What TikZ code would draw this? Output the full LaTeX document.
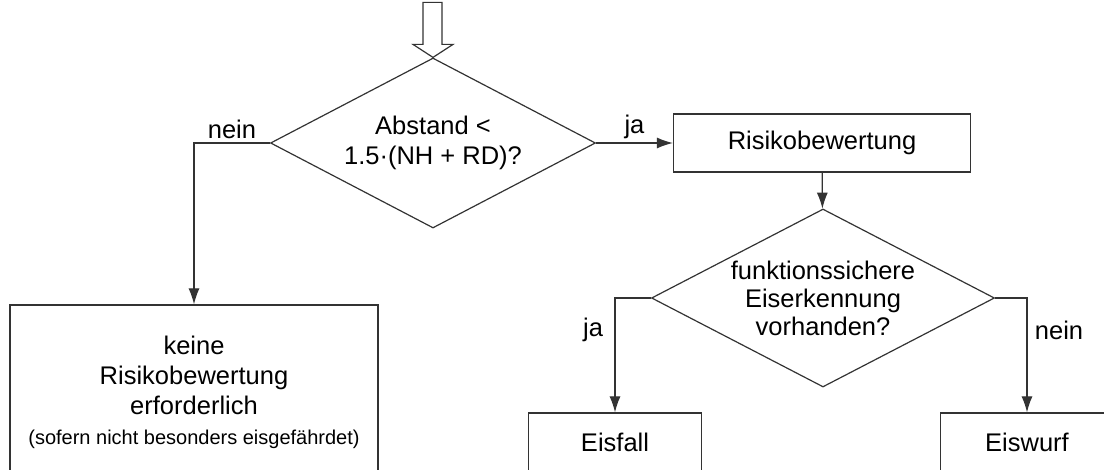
\documentclass[tikz,border=0pt]{standalone}
\usepackage{fontspec}
\setmainfont{Liberation Sans}
\usetikzlibrary{shapes.geometric,arrows.meta}
\begin{document}
\begin{tikzpicture}
  [x=1pt,y=-1pt,line width=1.2pt,
   every node/.style={font=\fontsize{25.5}{30}\selectfont},
   box/.style={draw=black!80,rectangle,inner sep=0pt,align=center},
   decision/.style={draw=black!80,diamond,aspect=2,inner sep=-4pt,align=center},
   arr/.style={draw=black!80,-{Latex[length=16pt,width=11pt]}}]
\useasboundingbox (0,0) rectangle (1104,470);
\clip (0,0) rectangle (1104,470);
\node (d1)[decision,minimum width=325pt,minimum height=170pt] at (433,143) {Abstand <\\1.5·(NH + RD)?};
  \node (risk)[box,minimum width=297pt,minimum height=58pt] at (822,143) {Risikobewertung};
  \node (d2)[decision,minimum width=343pt,minimum height=178pt,font=\fontsize{25.5}{28}\selectfont] at (823,298) {funktionssichere\\Eiserkennung\\vorhanden?};
  \node (keine)[box,minimum width=368pt,minimum height=174pt] at (194,392) {keine\\Risikobewertung\\erforderlich\\{\fontsize{20}{24}\selectfont (sofern nicht besonders eisgefährdet)}};
  \node (eisfall)[box,minimum width=173pt,minimum height=58pt] at (615,442) {Eisfall};
  \node (eiswurf)[box,minimum width=173pt,minimum height=58pt] at (1027,442) {Eiswurf};
 % hollow entry arrow
 \draw[black!80] (d1.north) -- ++(-20,-13) -- ++(10,0) -- ++(0,-42) -- ++(19,0) -- ++(0,42) -- ++(11,0) -- cycle;
 \draw[arr] (d1.east) -- (risk.west) node[midway,above,text=black]{ja};
 \draw[arr] (d1.west) -| (keine.north) node[pos=0.25,above,text=black]{nein};
 \draw[arr] (risk) -- (d2);
 \draw[arr] (d2.west) -| (eisfall.north) node[pos=0.64,left=8pt,text=black]{ja};
 \draw[arr] (d2.east) -| (eiswurf.north) node[pos=0.64,right=4pt,text=black]{nein};
\end{tikzpicture}
\end{document}
